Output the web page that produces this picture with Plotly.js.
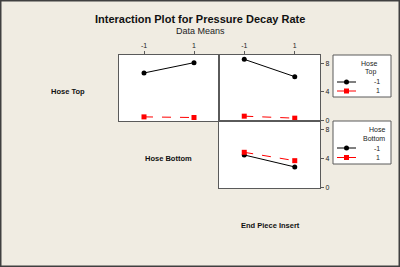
<!DOCTYPE html>
<html>
<head>
<meta charset="utf-8">
<script src="https://cdn.plot.ly/plotly-3.0.1.min.js"></script>
<style>html,body{margin:0;padding:0;background:#F0ECE2;}#chart{width:400px;height:267px;}</style>
</head>
<body>
<div id="chart"></div>
<script>
const levels = [-1, 1];
const levelNames = ['-1', '1'];
// Row "Hose Top": lines are Hose Top levels; column 1 x = Hose Bottom, column 2 x = End Piece Insert
const topNegByBottom = [6.64, 8.09];
const topPosByBottom = [0.46, 0.37];
const topNegByInsert = [8.56, 6.12];
const topPosByInsert = [0.56, 0.28];
// Row "Hose Bottom": lines are Hose Bottom levels; x = End Piece Insert
const bottomNegByInsert = [4.46, 2.80];
const bottomPosByInsert = [4.83, 3.67];
const yTicks = [0, 4, 8];
const legendTitles = [['Hose', 'Top'], ['Hose', 'Bottom']];

const W = 400, H = 267;
const px = v => v / W;
const py = v => 1 - v / H;

const blackStyle = {mode: 'lines+markers', line: {color: '#000000', width: 1}, marker: {color: '#000000', size: 5, symbol: 'circle'}};
const redStyle = {mode: 'lines+markers', line: {color: '#FF0000', width: 1, dash: 'dash'}, marker: {color: '#FF0000', size: 5, symbol: 'square'}};

const traces = [
  Object.assign({x: levels, y: topNegByBottom, xaxis: 'x', yaxis: 'y', name: levelNames[0]}, blackStyle),
  Object.assign({x: levels, y: topPosByBottom, xaxis: 'x', yaxis: 'y', name: levelNames[1]}, redStyle),
  Object.assign({x: levels, y: topNegByInsert, xaxis: 'x2', yaxis: 'y2', name: levelNames[0]}, blackStyle),
  Object.assign({x: levels, y: topPosByInsert, xaxis: 'x2', yaxis: 'y2', name: levelNames[1]}, redStyle),
  Object.assign({x: levels, y: bottomNegByInsert, xaxis: 'x3', yaxis: 'y3', name: levelNames[0]}, blackStyle),
  Object.assign({x: levels, y: bottomPosByInsert, xaxis: 'x3', yaxis: 'y3', name: levelNames[1]}, redStyle)
];

const frame = '#5a5a5a';
const FONT = 'Liberation Sans, Arial, sans-serif';
const tickFont = {family: FONT, size: 7, color: '#222'};
const xBase = {range: [-2, 2], tickvals: levels, ticktext: levelNames, showline: true, mirror: true, linecolor: frame, linewidth: 1, showgrid: false, zeroline: false, fixedrange: true, tickfont: tickFont, ticklen: 3, tickcolor: frame};
const yBase = {range: [-0.12, 9.17], tickvals: yTicks, showline: true, mirror: true, linecolor: frame, linewidth: 1, showgrid: false, zeroline: false, fixedrange: true, tickfont: tickFont, ticklen: 3, tickcolor: frame};

const bold = {family: FONT, size: 7.5, color: '#111', weight: 'bold'};
const small = {family: FONT, size: 7, color: '#222'};

const annotations = [
  {text: 'Interaction Plot for Pressure Decay Rate', x: 0.5, y: py(19), xanchor: 'center', font: {family: FONT, size: 11, color: '#111', weight: 'bold'}},
  {text: 'Data Means', x: 0.5, y: py(31), xanchor: 'center', font: {family: FONT, size: 9, color: '#222'}},
  {text: 'Hose Top', x: px(68), y: py(92), xanchor: 'center', font: bold},
  {text: 'Hose Bottom', x: px(168), y: py(158), xanchor: 'center', font: bold},
  {text: 'End Piece Insert', x: px(270), y: py(225), xanchor: 'center', font: bold}
];
const shapes = [
  {type: 'rect', xref: 'paper', yref: 'paper', x0: 0, x1: 1, y0: 0, y1: 1, line: {color: '#404040', width: 3}, fillcolor: 'rgba(0,0,0,0)'}
];

// Manual legends (box, title lines, line samples with markers, labels)
const legendBoxes = [
  {top: 55, bottom: 97, titleX: [369, 370.5], titleY: [63, 72], itemY: [82, 91]},
  {top: 121, bottom: 164, titleX: [376.5, 373.5], titleY: [129, 138], itemY: [148, 157.5]}
];
legendBoxes.forEach((b, bi) => {
  shapes.push({type: 'rect', xref: 'paper', yref: 'paper', x0: px(333), x1: px(391), y0: py(b.bottom), y1: py(b.top), line: {color: frame, width: 1}, fillcolor: '#FFFFFF', layer: 'below'});
  legendTitles[bi].forEach((t, ti) => {
    annotations.push({text: t, x: px(b.titleX[ti]), y: py(b.titleY[ti]), xanchor: 'center', font: small});
  });
  [blackStyle, redStyle].forEach((st, si) => {
    const yy = py(b.itemY[si]);
    shapes.push({type: 'line', xref: 'paper', yref: 'paper', x0: px(337), x1: px(356), y0: yy, y1: yy, line: {color: st.line.color, width: 1}});
    const r = 2.5;
    shapes.push({type: si === 0 ? 'circle' : 'rect', xref: 'paper', yref: 'paper', x0: px(346.5 - r), x1: px(346.5 + r), y0: py(b.itemY[si] + r), y1: py(b.itemY[si] - r), line: {color: st.marker.color, width: 0}, fillcolor: st.marker.color});
    annotations.push({text: levelNames[si], x: px(381.5), y: yy, xanchor: 'right', font: small});
  });
});
annotations.forEach(a => { a.xref = 'paper'; a.yref = 'paper'; a.showarrow = false; a.yanchor = 'middle'; });

const layout = {
  width: W, height: H,
  margin: {l: 0, r: 0, t: 0, b: 0},
  paper_bgcolor: '#F0ECE2',
  plot_bgcolor: '#FFFFFF',
  showlegend: false,
  xaxis: Object.assign({}, xBase, {domain: [px(119), px(219)], anchor: 'y', side: 'top', ticks: 'outside'}),
  yaxis: Object.assign({}, yBase, {domain: [py(121), py(55)], anchor: 'x', ticks: '', showticklabels: false}),
  xaxis2: Object.assign({}, xBase, {domain: [px(219), px(320)], anchor: 'y2', side: 'top', ticks: 'outside'}),
  yaxis2: Object.assign({}, yBase, {domain: [py(121), py(55)], anchor: 'x2', side: 'right', ticks: 'outside'}),
  xaxis3: Object.assign({}, xBase, {domain: [px(219), px(320)], anchor: 'y3', ticks: '', showticklabels: false}),
  yaxis3: Object.assign({}, yBase, {domain: [py(188), py(121)], anchor: 'x3', side: 'right', ticks: 'outside'}),
  annotations: annotations,
  shapes: shapes
};

Plotly.newPlot('chart', traces, layout, {staticPlot: true, displayModeBar: false});
</script>
</body>
</html>
